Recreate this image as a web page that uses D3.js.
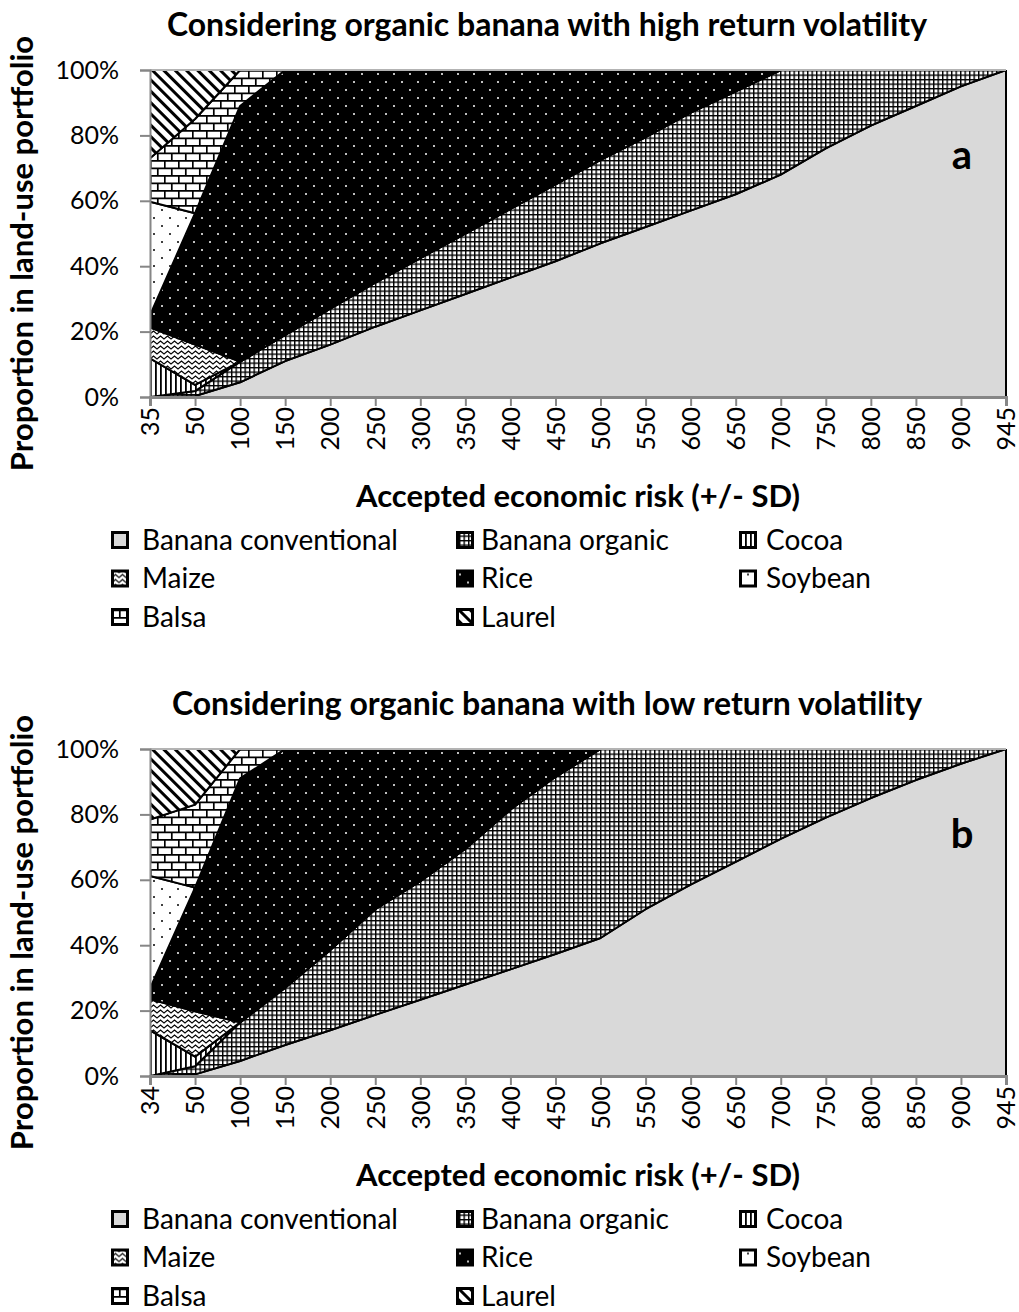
<!DOCTYPE html>
<html>
<head>
<meta charset="utf-8">
<script src="https://cdn.jsdelivr.net/npm/d3@7"></script>
<style>
  body { margin: 0; background: #fff; }
  svg { display: block; }
  text { font-family: Lato, "Open Sans", sans-serif; fill: #000; }
</style>
</head>
<body>
<svg id="chart" width="1019" height="1312"></svg>
<script>
// series, bottom to top of the stack
const seriesNames = ["Banana conventional", "Banana organic", "Cocoa", "Maize", "Rice", "Soybean", "Balsa", "Laurel"];
const patternIds = ["conv", "grid", "vert", "zig", "rice", "soy", "brick", "diag"];

// chart a: organic banana with high return volatility
const riskA = ["35", "50", "100", "150", "200", "250", "300", "350", "400", "450", "500", "550", "600", "650", "700", "750", "800", "850", "900", "945"];
const convA    = [0, 0.3, 4.5, 11, 16, 21.5, 26.5, 31.5, 36.5, 41.5, 47, 52, 57, 62, 68, 76, 83, 89, 95, 100];
const organicA = [0, 1.5, 6.3, 8, 11, 13.5, 16, 18.5, 21, 23.5, 25.5, 27.5, 30, 31.5, 32, 24, 17, 11, 5, 0];
const cocoaA   = [11.8, 1.9, 0, 0, 0, 0, 0, 0, 0, 0, 0, 0, 0, 0, 0, 0, 0, 0, 0, 0];
const maizeA   = [9.5, 12.3, 0, 0, 0, 0, 0, 0, 0, 0, 0, 0, 0, 0, 0, 0, 0, 0, 0, 0];
const riceA    = [3.7, 40.2, 78.2, 81, 73, 65, 57.5, 50, 42.5, 35, 27.5, 20.5, 13, 6.5, 0, 0, 0, 0, 0, 0];
const soyA     = [34.7, 0, 0, 0, 0, 0, 0, 0, 0, 0, 0, 0, 0, 0, 0, 0, 0, 0, 0, 0];
const balsaA   = [13.3, 28.8, 11, 0, 0, 0, 0, 0, 0, 0, 0, 0, 0, 0, 0, 0, 0, 0, 0, 0];
const laurelA  = [27, 15, 0, 0, 0, 0, 0, 0, 0, 0, 0, 0, 0, 0, 0, 0, 0, 0, 0, 0];

// chart b: organic banana with low return volatility
const riskB = ["34", "50", "100", "150", "200", "250", "300", "350", "400", "450", "500", "550", "600", "650", "700", "750", "800", "850", "900", "945"];
const convB    = [0, 0.5, 4.6, 9.5, 14, 18.7, 23.3, 28, 32.6, 37.3, 42.2, 51, 58.5, 65.5, 72.5, 79, 85, 90.5, 95.5, 100];
const organicB = [0, 2.5, 11.8, 17.5, 24.5, 32.3, 36.3, 41.5, 48.9, 54.2, 57.8, 49, 41.5, 34.5, 27.5, 21, 15, 9.5, 4.5, 0];
const cocoaB   = [14, 2.9, 0, 0, 0, 0, 0, 0, 0, 0, 0, 0, 0, 0, 0, 0, 0, 0, 0, 0];
const maizeB   = [9.5, 13.9, 0, 0, 0, 0, 0, 0, 0, 0, 0, 0, 0, 0, 0, 0, 0, 0, 0, 0];
const riceB    = [3.3, 37.8, 74.6, 73, 61.5, 49, 40.4, 30.5, 18.5, 8.5, 0, 0, 0, 0, 0, 0, 0, 0, 0, 0];
const soyB     = [34.4, 0, 0, 0, 0, 0, 0, 0, 0, 0, 0, 0, 0, 0, 0, 0, 0, 0, 0, 0];
const balsaB   = [17.2, 25.4, 9, 0, 0, 0, 0, 0, 0, 0, 0, 0, 0, 0, 0, 0, 0, 0, 0, 0];
const laurelB  = [21.6, 17, 0, 0, 0, 0, 0, 0, 0, 0, 0, 0, 0, 0, 0, 0, 0, 0, 0, 0];

const yTicks = [0, 20, 40, 60, 80, 100];

const svg = d3.select("#chart");
const defs = svg.append("defs");

// fill patterns (black & white like the original figure)
function tile(id, w, h, bg) {
  const p = defs.append("pattern").attr("id", id)
    .attr("patternUnits", "userSpaceOnUse").attr("width", w).attr("height", h);
  p.append("rect").attr("width", w).attr("height", h).attr("fill", bg);
  return p;
}
tile("conv", 4, 4, "#d9d9d9");
let p = tile("grid", 4.5, 4.5, "#fff");
p.append("path").attr("d", "M0,0.7H4.5M0.7,0V4.5").attr("stroke", "#000").attr("stroke-width", 1.4);
p = tile("vert", 5, 5, "#fff");
p.append("rect").attr("x", 0).attr("width", 1.8).attr("height", 5).attr("fill", "#000");
p = tile("zig", 7, 5, "#fff");
p.append("path").attr("d", "M-3.5,1 L0,4 L3.5,1 L7,4 L10.5,1").attr("fill", "none").attr("stroke", "#000").attr("stroke-width", 1.3);
p = tile("rice", 16, 16, "#000");
p.append("circle").attr("cx", 4).attr("cy", 4).attr("r", 1).attr("fill", "#fff");
p.append("circle").attr("cx", 12).attr("cy", 12).attr("r", 1).attr("fill", "#fff");
p = tile("soy", 16, 16, "#fff");
p.append("circle").attr("cx", 4).attr("cy", 4).attr("r", 1).attr("fill", "#000");
p.append("circle").attr("cx", 12).attr("cy", 12).attr("r", 1).attr("fill", "#000");
p = tile("brick", 14, 15, "#fff");
p.append("path").attr("d", "M0,0.8H14M0,8.3H14M0.8,0.8V8.3M7.8,8.3V15")
  .attr("stroke", "#000").attr("stroke-width", 1.7).attr("fill", "none");
p = defs.append("pattern").attr("id", "diag").attr("patternUnits", "userSpaceOnUse")
  .attr("width", 8).attr("height", 8).attr("patternTransform", "rotate(-45)");
p.append("rect").attr("width", 8).attr("height", 8).attr("fill", "#fff");
p.append("rect").attr("width", 3).attr("height", 8).attr("fill", "#000");

const margin = { left: 150, right: 13, top: 70 };
const width = 1019 - margin.left - margin.right;
const height = 327;

function drawChart(top, title, tag, cats, cols) {
  const g = svg.append("g").attr("transform", "translate(" + margin.left + "," + top + ")");
  const rows = cats.map((c, i) => {
    const r = { risk: c };
    seriesNames.forEach((s, k) => { r[s] = cols[k][i]; });
    return r;
  });
  const stacked = d3.stack().keys(seriesNames)(rows);

  const x = d3.scalePoint().domain(cats).range([0, width]);
  const y = d3.scaleLinear().domain([0, 100]).range([height, 0]);

  const clipId = "clip" + tag;
  defs.append("clipPath").attr("id", clipId)
    .append("rect").attr("width", width + 2).attr("height", height);

  const area = d3.area()
    .x(d => x(d.data.risk))
    .y0(d => y(d[0]))
    .y1(d => y(d[1]));

  g.append("g").attr("clip-path", "url(#" + clipId + ")")
    .selectAll("path")
    .data(stacked)
    .join("path")
    .attr("d", area)
    .attr("fill", (d, i) => "url(#" + patternIds[i] + ")")
    .attr("stroke", "#000")
    .attr("stroke-width", 2)
    .attr("stroke-linejoin", "round");

  // top border of the plot
  g.append("line").attr("x1", 0).attr("x2", width).attr("y1", 0).attr("y2", 0)
    .attr("stroke", "#b3b3b3").attr("stroke-width", 2);

  // y axis
  const yAxis = g.append("g")
    .call(d3.axisLeft(y).tickValues(yTicks).tickFormat(d => d + "%").tickSize(10).tickPadding(21));
  yAxis.select(".domain").attr("stroke", "#868686").attr("stroke-width", 2);
  yAxis.selectAll(".tick line").attr("stroke", "#868686").attr("stroke-width", 2);
  yAxis.selectAll("text").attr("font-size", 25).attr("font-family", "Lato");

  // x axis with rotated category labels
  const xAxis = g.append("g").attr("transform", "translate(0," + height + ")")
    .call(d3.axisBottom(x).tickSize(9).tickPadding(0));
  xAxis.select(".domain").attr("stroke", "#868686").attr("stroke-width", 3);
  xAxis.selectAll(".tick line").attr("stroke", "#868686").attr("stroke-width", 2);
  xAxis.selectAll("text")
    .attr("font-size", 25).attr("font-family", "Lato")
    .attr("transform", "rotate(-90)")
    .attr("text-anchor", "end")
    .attr("x", -10).attr("y", 0).attr("dy", "0.35em");

  g.append("text")
    .attr("x", 812).attr("y", 85)
    .attr("text-anchor", "middle").attr("dy", "0.35em")
    .attr("font-size", 40).attr("font-weight", "bold")
    .text(tag);

  svg.append("text")
    .attr("x", 547).attr("y", top - 45)
    .attr("text-anchor", "middle").attr("dy", "0.35em")
    .attr("font-size", 32).attr("font-weight", "bold")
    .text(title);

  svg.append("text")
    .attr("transform", "translate(22," + (top + height / 2 + 20) + ") rotate(-90)")
    .attr("text-anchor", "middle").attr("dy", "0.35em")
    .attr("font-size", 31).attr("font-weight", "bold")
    .text("Proportion in land-use portfolio");

  svg.append("text")
    .attr("x", 578).attr("y", top + 426)
    .attr("text-anchor", "middle").attr("dy", "0.35em")
    .attr("font-size", 31).attr("font-weight", "bold")
    .text("Accepted economic risk (+/- SD)");

  // legend, 3 columns
  const markX = [111, 456, 739];
  const textX = [142, 481, 766];
  const legend = svg.append("g").attr("transform", "translate(0," + (top + 470) + ")");
  const item = legend.selectAll("g")
    .data(seriesNames)
    .join("g")
    .attr("transform", (d, i) => "translate(0," + (Math.floor(i / 3) * 38.5) + ")");
  item.append("rect")
    .attr("x", (d, i) => markX[i % 3] + 1.5).attr("y", -7.5)
    .attr("width", 15).attr("height", 15)
    .attr("fill", (d, i) => "url(#" + patternIds[i] + ")")
    .attr("stroke", "#000").attr("stroke-width", 3);
  item.append("text")
    .attr("x", (d, i) => textX[i % 3]).attr("dy", "0.35em")
    .attr("font-size", 28)
    .text(d => d);
}

drawChart(70, "Considering organic banana with high return volatility", "a", riskA,
  [convA, organicA, cocoaA, maizeA, riceA, soyA, balsaA, laurelA]);
drawChart(749, "Considering organic banana with low return volatility", "b", riskB,
  [convB, organicB, cocoaB, maizeB, riceB, soyB, balsaB, laurelB]);
</script>
</body>
</html>
